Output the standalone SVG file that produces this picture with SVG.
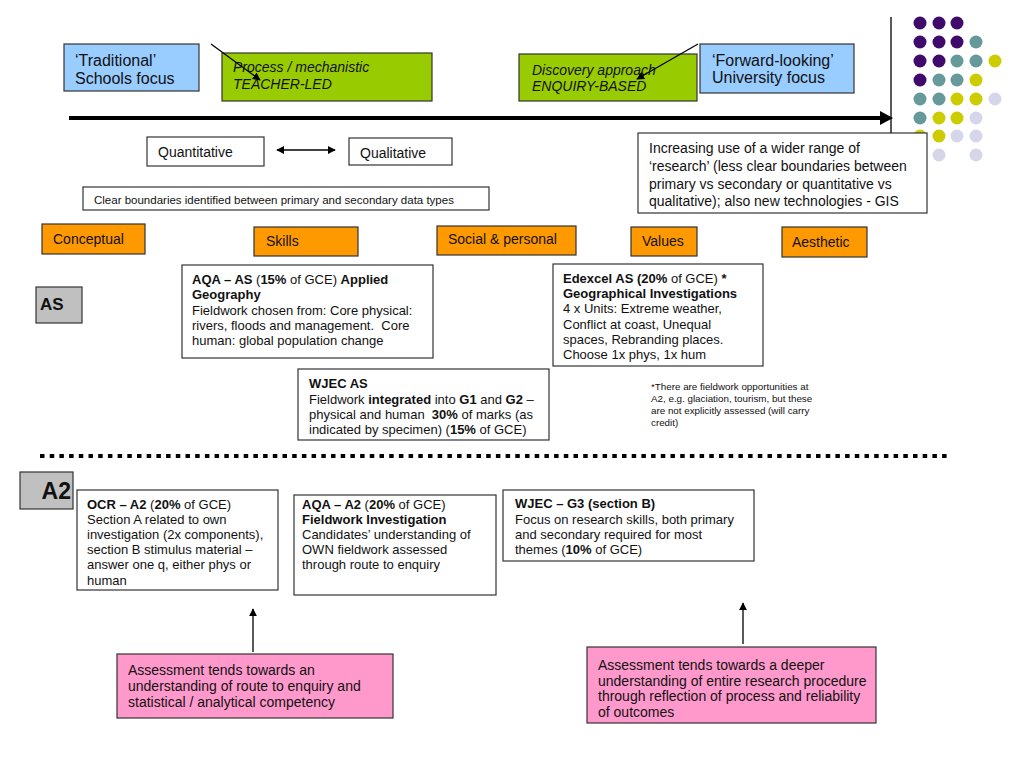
<svg xmlns="http://www.w3.org/2000/svg" width="1024" height="768" viewBox="0 0 1024 768">
<defs>
<marker id="ah" viewBox="0 0 10 10" refX="9" refY="5" markerWidth="8" markerHeight="8" markerUnits="userSpaceOnUse" orient="auto-start-reverse">
<path d="M0,0 L10,5 L0,10 z" fill="#000"/>
</marker>
<style>
text{font-family:"Liberation Sans",Arial,sans-serif;fill:#111}
.pre{white-space:pre}
.box{stroke:#333;stroke-width:1.2}
.w{fill:#fff}
.blue{fill:#99ccff}
.green{fill:#99cc00}
.orange{fill:#ff9900}
.gray{fill:#c0c0c0}
.pink{fill:#ff99cc}
.t16{font-size:16px}
.t14{font-size:14px}
.t13{font-size:13px}
.t11{font-size:11.5px}
.t10{font-size:9.8px}
.it{font-style:italic}
.b{font-weight:bold}
.conn{stroke:#000;stroke-width:1.3;fill:none}
.p{fill:#3f0a6c}.tl{fill:#669999}.y{fill:#cccc00}.l{fill:#d6d6ea}
</style>
</defs>
<rect width="1024" height="768" fill="#fff"/>

<g id="dots">
<circle class="p" cx="920" cy="23" r="6.5"/><circle class="p" cx="939" cy="23" r="6.5"/><circle class="p" cx="957" cy="23" r="6.5"/>
<circle class="p" cx="920" cy="42" r="6.5"/><circle class="p" cx="939" cy="42" r="6.5"/><circle class="p" cx="957" cy="42" r="6.5"/><circle class="tl" cx="976" cy="42" r="6.5"/>
<circle class="p" cx="920" cy="61" r="6.5"/><circle class="p" cx="939" cy="61" r="6.5"/><circle class="tl" cx="957" cy="61" r="6.5"/><circle class="tl" cx="976" cy="61" r="6.5"/><circle class="y" cx="995" cy="61" r="6.5"/>
<circle class="p" cx="920" cy="80" r="6.5"/><circle class="tl" cx="939" cy="80" r="6.5"/><circle class="tl" cx="957" cy="80" r="6.5"/><circle class="y" cx="976" cy="80" r="6.5"/>
<circle class="tl" cx="920" cy="99" r="6.5"/><circle class="tl" cx="939" cy="99" r="6.5"/><circle class="y" cx="957" cy="99" r="6.5"/><circle class="y" cx="976" cy="99" r="6.5"/><circle class="l" cx="995" cy="99" r="6.5"/>
<circle class="tl" cx="920" cy="118" r="6.5"/><circle class="y" cx="939" cy="118" r="6.5"/><circle class="y" cx="957" cy="118" r="6.5"/><circle class="l" cx="976" cy="118" r="6.5"/>
<circle class="y" cx="920" cy="136" r="6.5"/><circle class="y" cx="939" cy="136" r="6.5"/><circle class="l" cx="957" cy="136" r="6.5"/><circle class="l" cx="976" cy="136" r="6.5"/>
<circle class="l" cx="939" cy="155" r="6.5"/><circle class="l" cx="976" cy="155" r="6.5"/>
</g>

<g id="traditional">
<rect class="box blue" x="64" y="44" width="135" height="47"/>
<text class="t16" x="75" y="66">‘Traditional’</text>
<text class="t16" x="75" y="84">Schools focus</text>
</g>

<g id="process">
<rect class="box green" x="222" y="53" width="210" height="48"/>
<text class="t14 it" x="233" y="72">Process / mechanistic</text>
<text class="t14 it" x="233" y="89">TEACHER-LED</text>
</g>

<g id="discovery">
<rect class="box green" x="519" y="54" width="178" height="47"/>
<text class="t14 it" x="532" y="75">Discovery approach</text>
<text class="t14 it" x="532" y="91">ENQUIRY-BASED</text>
</g>

<g id="forward">
<rect class="box blue" x="700" y="44" width="154" height="49"/>
<text class="t16" x="712" y="66">‘Forward-looking’</text>
<text class="t16" x="712" y="83">University focus</text>
</g>

<g id="quantitative">
<rect class="box w" x="147" y="137" width="117" height="29"/>
<text class="t14" x="158" y="157">Quantitative</text>
</g>

<g id="qualitative">
<rect class="box w" x="349" y="138" width="103" height="27"/>
<text class="t14" x="360" y="158">Qualitative</text>
</g>

<g id="clear">
<rect class="box w" x="83" y="187" width="406" height="23"/>
<text class="t11" x="94" y="204">Clear boundaries identified between primary and secondary data types</text>
</g>

<g id="increasing">
<rect class="box w" x="638" y="133" width="289" height="80"/>
<text class="t14" x="649" y="153">Increasing use of a wider range of</text>
<text class="t14" x="649" y="171">‘research’ (less clear boundaries between</text>
<text class="t14" x="649" y="188.5">primary vs secondary or quantitative vs</text>
<text class="t14" x="649" y="206">qualitative); also new technologies - GIS</text>
</g>

<g id="conceptual">
<rect class="box orange" x="42" y="224" width="103" height="30"/>
<text class="t14" x="53" y="244">Conceptual</text>
</g>
<g id="skills">
<rect class="box orange" x="254" y="227" width="104" height="29"/>
<text class="t14" x="266" y="246">Skills</text>
</g>
<g id="social">
<rect class="box orange" x="437" y="226" width="139" height="29"/>
<text class="t14" x="448" y="244">Social &amp; personal</text>
</g>
<g id="values">
<rect class="box orange" x="631" y="227" width="66" height="29"/>
<text class="t14" x="642" y="246">Values</text>
</g>
<g id="aesthetic">
<rect class="box orange" x="782" y="227" width="85" height="30"/>
<text class="t14" x="792" y="247">Aesthetic</text>
</g>

<g id="as-label">
<rect class="box gray" x="36" y="287" width="46" height="36"/>
<text class="b" font-size="17" x="40" y="310">AS</text>
</g>

<g id="aqa-as">
<rect class="box w" x="182" y="265" width="251" height="93"/>
<text class="t13" x="192" y="284"><tspan class="b">AQA – AS</tspan> (<tspan class="b">15%</tspan> of GCE) <tspan class="b">Applied</tspan></text>
<text class="t13 b" x="192" y="299">Geography</text>
<text class="t13" x="192" y="314.5">Fieldwork chosen from: Core physical:</text>
<text class="t13 pre" x="192" y="330">rivers, floods and management.  Core</text>
<text class="t13" x="192" y="345">human: global population change</text>
</g>

<g id="edexcel">
<rect class="box w" x="553" y="264" width="210" height="102"/>
<text class="t13" x="563" y="283"><tspan class="b">Edexcel AS (20%</tspan> of GCE) <tspan class="b">*</tspan></text>
<text class="t13 b" x="563" y="298">Geographical Investigations</text>
<text class="t13" x="563" y="313">4 x Units: Extreme weather,</text>
<text class="t13" x="563" y="328.5">Conflict at coast, Unequal</text>
<text class="t13" x="563" y="344">spaces, Rebranding places.</text>
<text class="t13" x="563" y="359">Choose 1x phys, 1x hum</text>
</g>

<g id="wjec-as">
<rect class="box w" x="298" y="369" width="251" height="71"/>
<text class="t13 b" x="309" y="388">WJEC AS</text>
<text class="t13" x="309" y="404">Fieldwork <tspan class="b">integrated</tspan> into <tspan class="b">G1</tspan> and <tspan class="b">G2</tspan> –</text>
<text class="t13 pre" x="309" y="419">physical and human  <tspan class="b">30%</tspan> of marks (as</text>
<text class="t13" x="309" y="434">indicated by specimen) (<tspan class="b">15%</tspan> of GCE)</text>
</g>

<g id="footnote">
<text class="t10" x="651" y="390">*There are fieldwork opportunities at</text>
<text class="t10" x="651" y="402">A2, e.g. glaciation, tourism, but these</text>
<text class="t10" x="651" y="414">are not explicitly assessed (will carry</text>
<text class="t10" x="651" y="425.5">credit)</text>
</g>

<g id="a2-label">
<rect class="box gray" x="20" y="472" width="53" height="37"/>
<text class="b" font-size="23" x="71" y="499" text-anchor="end">A2</text>
</g>

<g id="ocr">
<rect class="box w" x="77" y="490" width="201" height="100"/>
<text class="t13" x="87" y="509"><tspan class="b">OCR – A2</tspan> (<tspan class="b">20%</tspan> of GCE)</text>
<text class="t13" x="87" y="524">Section A related to own</text>
<text class="t13" x="87" y="539">investigation (2x components),</text>
<text class="t13" x="87" y="554">section B stimulus material –</text>
<text class="t13" x="87" y="569">answer one q, either phys or</text>
<text class="t13" x="87" y="584.5">human</text>
</g>

<g id="aqa-a2">
<rect class="box w" x="294" y="495" width="202" height="100"/>
<text class="t13" x="302" y="509"><tspan class="b">AQA – A2</tspan> (<tspan class="b">20%</tspan> of GCE)</text>
<text class="t13 b" x="302" y="524">Fieldwork Investigation</text>
<text class="t13" x="302" y="539">Candidates’ understanding of</text>
<text class="t13" x="302" y="554">OWN fieldwork assessed</text>
<text class="t13" x="302" y="569">through route to enquiry</text>
</g>

<g id="wjec-g3">
<rect class="box w" x="503" y="490" width="251" height="71"/>
<text class="t13 b" x="515" y="508">WJEC – G3 (section B)</text>
<text class="t13" x="515" y="523.5">Focus on research skills, both primary</text>
<text class="t13" x="515" y="539">and secondary required for most</text>
<text class="t13" x="515" y="554">themes (<tspan class="b">10%</tspan> of GCE)</text>
</g>

<g id="assess1">
<rect class="box pink" x="117" y="654" width="276" height="64"/>
<text class="t14" x="128" y="675">Assessment tends towards an</text>
<text class="t14" x="128" y="691">understanding of route to enquiry and</text>
<text class="t14" x="128" y="707">statistical / analytical competency</text>
</g>

<g id="assess2">
<rect class="box pink" x="587" y="647" width="289" height="76"/>
<text class="t14" x="598" y="670">Assessment tends towards a deeper</text>
<text class="t14" x="598" y="686">understanding of entire research procedure</text>
<text class="t14" x="598" y="701">through reflection of process and reliability</text>
<text class="t14" x="598" y="717">of outcomes</text>
</g>

<g id="connectors">
<line x1="891" y1="17" x2="891" y2="133" stroke="#000" stroke-width="1.3"/>
<line x1="69" y1="118" x2="880" y2="118" stroke="#000" stroke-width="4"/>
<polygon points="880,111 893,118 880,125" fill="#000"/>
<line class="conn" x1="211" y1="44" x2="260" y2="80" marker-end="url(#ah)"/>
<line class="conn" x1="698" y1="44" x2="637" y2="79" marker-end="url(#ah)"/>
<line class="conn" x1="277" y1="150" x2="335" y2="150" marker-start="url(#ah)" marker-end="url(#ah)"/>
<line x1="40" y1="456" x2="950" y2="456" stroke="#000" stroke-width="4" stroke-dasharray="4.5 5.2"/>
<line class="conn" x1="253" y1="652" x2="253" y2="609" marker-end="url(#ah)"/>
<line class="conn" x1="743" y1="644" x2="743" y2="603" marker-end="url(#ah)"/>
</g>
</svg>
